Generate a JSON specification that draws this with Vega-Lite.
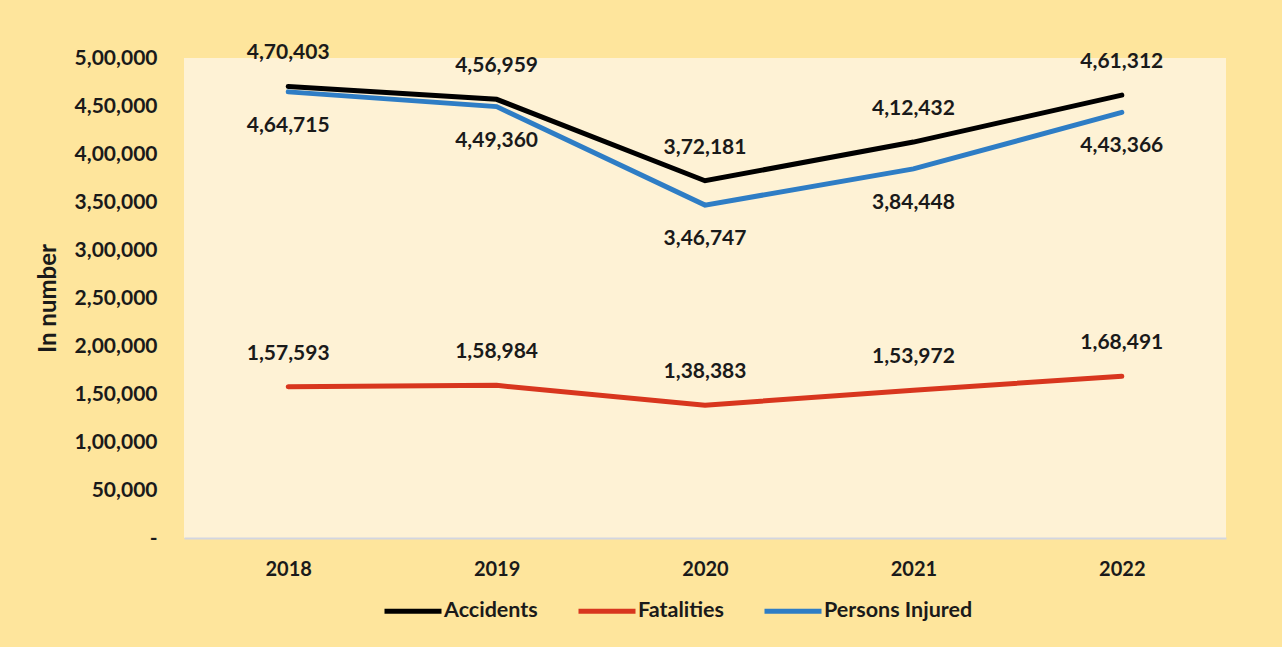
{
  "$schema": "https://vega.github.io/schema/vega-lite/v6.json",
  "autosize": "none",
  "width": 1042,
  "height": 480,
  "padding": {"left": 184, "top": 58, "right": 56, "bottom": 109},
  "background": "#FEE59C",
  "config": {
    "font": "Lato",
    "view": {"fill": "#FEF2D5", "stroke": null},
    "axis": {"labelFont": "Lato", "labelFontWeight": "bold", "labelColor": "#1a1a1a", "titleFont": "Lato", "titleColor": "#1a1a1a"}
  },
  "data": {
    "values": [
      {"year": "2018", "series": "Accidents", "value": 470403, "label": "4,70,403"},
      {"year": "2019", "series": "Accidents", "value": 456959, "label": "4,56,959"},
      {"year": "2020", "series": "Accidents", "value": 372181, "label": "3,72,181"},
      {"year": "2021", "series": "Accidents", "value": 412432, "label": "4,12,432"},
      {"year": "2022", "series": "Accidents", "value": 461312, "label": "4,61,312"},
      {"year": "2018", "series": "Fatalities", "value": 157593, "label": "1,57,593"},
      {"year": "2019", "series": "Fatalities", "value": 158984, "label": "1,58,984"},
      {"year": "2020", "series": "Fatalities", "value": 138383, "label": "1,38,383"},
      {"year": "2021", "series": "Fatalities", "value": 153972, "label": "1,53,972"},
      {"year": "2022", "series": "Fatalities", "value": 168491, "label": "1,68,491"},
      {"year": "2018", "series": "Persons Injured", "value": 464715, "label": "4,64,715"},
      {"year": "2019", "series": "Persons Injured", "value": 449360, "label": "4,49,360"},
      {"year": "2020", "series": "Persons Injured", "value": 346747, "label": "3,46,747"},
      {"year": "2021", "series": "Persons Injured", "value": 384448, "label": "3,84,448"},
      {"year": "2022", "series": "Persons Injured", "value": 443366, "label": "4,43,366"}
    ]
  },
  "encoding": {
    "x": {
      "field": "year", "type": "ordinal",
      "scale": {"type": "point", "padding": 0.5},
      "axis": {"title": null, "labelAngle": 0, "labelFontSize": 20, "labelPadding": 21, "ticks": false, "domainColor": "#D3D6E0", "domainWidth": 2}
    },
    "y": {
      "field": "value", "type": "quantitative",
      "scale": {"domain": [0, 500000], "nice": false, "zero": true},
      "axis": {
        "title": "In number", "titleFontSize": 24, "titleFontWeight": "bold", "titlePadding": 14,
        "values": [0, 50000, 100000, 150000, 200000, 250000, 300000, 350000, 400000, 450000, 500000],
        "labelExpr": "datum.value == 0 ? '-' : datum.value < 100000 ? format(datum.value, ',') : format(floor(datum.value / 100000), 'd') + ',' + format(floor((datum.value % 100000) / 1000), '02d') + ',' + format(datum.value % 1000, '03d')",
        "labelFontSize": 21, "labelPadding": 27, "ticks": false, "domain": false, "grid": false
      }
    }
  },
  "layer": [
    {
      "mark": {"type": "line", "strokeWidth": 5, "strokeCap": "round", "strokeJoin": "miter"},
      "encoding": {
        "color": {
          "field": "series", "type": "nominal",
          "scale": {"domain": ["Accidents", "Fatalities", "Persons Injured"], "range": ["#000000", "#D8361E", "#2E7DC5"]},
          "legend": {
            "title": null, "orient": "none", "direction": "horizontal",
            "legendX": 198, "legendY": 522,
            "symbolType": "stroke", "symbolSize": 3249, "symbolStrokeWidth": 5,
            "labelFontSize": 21.5, "labelFontWeight": "bold", "labelColor": "#1a1a1a", "labelOffset": 0,
            "columnPadding": 30, "labelLimit": 300
          }
        }
      }
    },
    {
      "transform": [{"filter": "datum.series != 'Persons Injured'"}],
      "mark": {"type": "text", "dy": -33, "fontSize": 21, "fontWeight": "bold", "color": "#1a1a1a"},
      "encoding": {"text": {"field": "label"}}
    },
    {
      "transform": [{"filter": "datum.series == 'Persons Injured'"}],
      "mark": {"type": "text", "dy": 34, "fontSize": 21, "fontWeight": "bold", "color": "#1a1a1a"},
      "encoding": {"text": {"field": "label"}}
    }
  ]
}
